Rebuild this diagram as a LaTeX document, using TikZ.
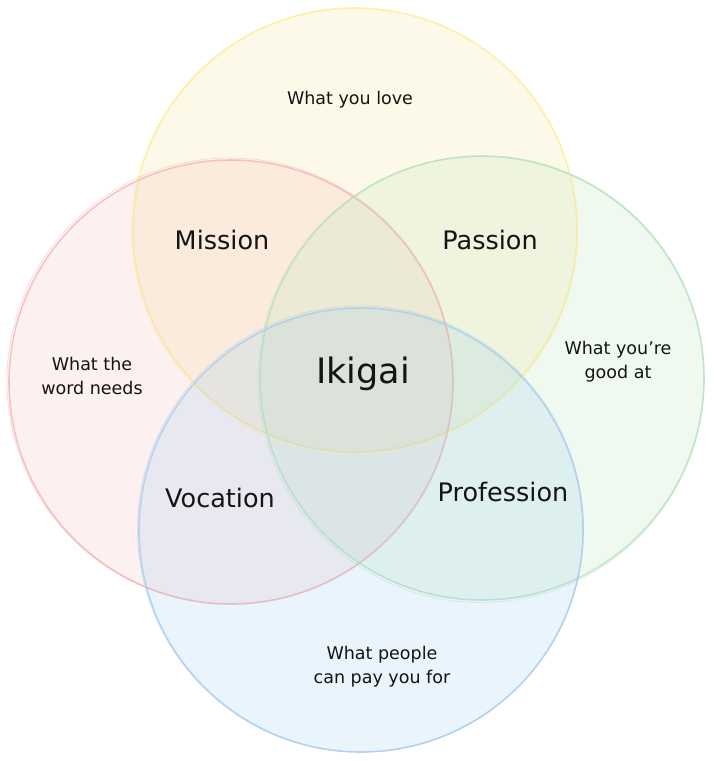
\documentclass[tikz,border=0pt]{standalone}
\usepackage{fontspec}
\setmainfont{DejaVu Sans}
\definecolor{yfill}{RGB}{245,225,140}
\definecolor{rfill}{RGB}{240,180,180}
\definecolor{gfill}{RGB}{180,225,180}
\definecolor{bfill}{RGB}{150,200,240}
\definecolor{ystroke}{RGB}{255,238,150}
\definecolor{rstroke}{RGB}{242,178,178}
\definecolor{gstroke}{RGB}{180,225,186}
\definecolor{bstroke}{RGB}{165,202,236}
\definecolor{ink}{RGB}{20,20,20}
\tikzset{
  setcircle/.style={circle, minimum size=444pt, inner sep=0pt, line width=1.6pt, fill opacity=0.2, draw opacity=0.75},
  sketchline/.style={circle, minimum size=446pt, inner sep=0pt, line width=0.8pt, draw opacity=0.45},
  smalllabel/.style={text=ink, font=\fontsize{17.5}{24}\selectfont, align=center, inner sep=0pt},
  midlabel/.style={text=ink, font=\fontsize{25.5}{28}\selectfont, inner sep=0pt},
  biglabel/.style={text=ink, font=\fontsize{35}{40}\selectfont, inner sep=0pt}
}
\begin{document}
\begin{tikzpicture}[x=1pt,y=-1pt]
\useasboundingbox (0,0) rectangle (713,761);
\fill[white] (0,0) rectangle (713,761);
% circles
\node[setcircle, draw=ystroke, fill=yfill] (love) at (355,230) {};
\node[setcircle, draw=rstroke, fill=rfill] (world) at (231,382) {};
\node[setcircle, draw=gstroke, fill=gfill] (good) at (482,378) {};
\node[setcircle, draw=bstroke, fill=bfill] (paid) at (361,530) {};
% sketchy second strokes
\node[sketchline, draw=ystroke] (love2) at (354.5,231) {};
\node[sketchline, draw=rstroke] (world2) at (230,381) {};
\node[sketchline, draw=gstroke] (good2) at (481,379.5) {};
\node[sketchline, draw=bstroke] (paid2) at (360.5,529) {};
% labels
\node[smalllabel] (tlove) at (350,100) {What you love};
\node[midlabel] (tmission) at (222,240) {Mission};
\node[midlabel] (tpassion) at (490,240) {Passion};
\node[smalllabel] (tworld) at (92,376) {What the\\word needs};
\node[smalllabel] (tgood) at (618,362) {What you're\\good at};
\node[biglabel] (tikigai) at (363,374) {Ikigai};
\node[midlabel] (tvocation) at (220,498) {Vocation};
\node[midlabel] (tprofession) at (503,492) {Profession};
\node[smalllabel] (tpaid) at (382,667) {What people\\can pay you for};
\end{tikzpicture}
\end{document}
